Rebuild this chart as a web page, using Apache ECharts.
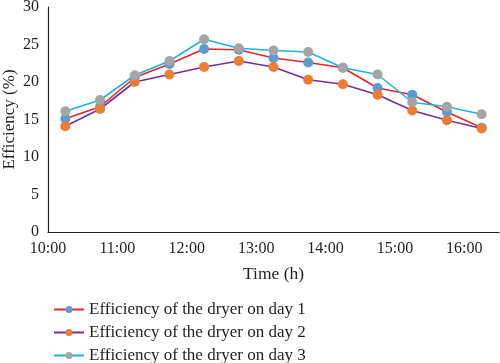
<!DOCTYPE html>
<html>
<head>
<meta charset="utf-8">
<script src="https://cdn.jsdelivr.net/npm/echarts@6/dist/echarts.min.js"></script>
<style>
html,body{margin:0;padding:0;background:#fff;}
#chart{width:500px;height:363px;}
</style>
</head>
<body>
<div id="chart"></div>
<script>
var times = ['10:15','10:45','11:15','11:45','12:15','12:45','13:15','13:45','14:15','14:45','15:15','15:45','16:15'];
var day1 = [15.1, 16.7, 20.6, 22.4, 24.4, 24.3, 23.2, 22.6, 21.9, 19.2, 18.3, 16.0, 13.9];
var day2 = [14.1, 16.4, 20.0, 21.0, 22.0, 22.8, 22.0, 20.3, 19.7, 18.3, 16.2, 14.9, 13.8];
var day3 = [16.1, 17.6, 20.9, 22.8, 25.7, 24.5, 24.2, 24.0, 21.9, 21.0, 17.3, 16.7, 15.7];
var seriesNames = ['Efficiency of the dryer on day 1','Efficiency of the dryer on day 2','Efficiency of the dryer on day 3'];

function toHours(t){ var p = t.split(':'); return +p[0] + (+p[1])/60; }
function pairs(vals){ return vals.map(function(v,i){ return [toHours(times[i]), v]; }); }

var font = '"Liberation Serif", "DejaVu Serif", serif';
var chart = echarts.init(document.getElementById('chart'), null, {renderer:'canvas'});
function mk(name, vals, lineColor, markColor){
  return {
    name: name, type: 'line', data: pairs(vals),
    symbol: 'circle', symbolSize: 10,
    lineStyle: {color: lineColor, width: 1.6},
    itemStyle: {color: markColor},
    emphasis: {disabled: true},
    animation: false
  };
}
chart.setOption({
  animation: false,
  grid: {left: 48, right: 1, top: 7, bottom: 131, containLabel: false, outerBoundsMode: 'none'},
  xAxis: {
    type: 'value', min: 10, max: 16.5, interval: 1,
    name: 'Time (h)', nameLocation: 'middle', nameGap: 33, nameMoveOverlap: false,
    nameTextStyle: {fontFamily: font, fontSize: 17.5, color: '#231f20'},
    axisLine: {show: true, lineStyle: {color: '#231f20', width: 1.2}},
    axisTick: {show: false},
    splitLine: {show: false},
    axisLabel: {
      fontFamily: font, fontSize: 16, color: '#231f20', margin: 9,
      formatter: function(v){ return (Math.abs(v - Math.round(v)) < 1e-6) ? (Math.round(v) + ':00') : ''; }
    }
  },
  yAxis: {
    type: 'value', min: 0, max: 30, interval: 5,
    name: 'Efficiency (%)', nameLocation: 'middle', nameGap: 30, nameMoveOverlap: false,
    nameTextStyle: {fontFamily: font, fontSize: 17, color: '#231f20'},
    axisLine: {show: true, lineStyle: {color: '#231f20', width: 1.2}},
    axisTick: {show: false},
    splitLine: {show: false},
    axisLabel: {fontFamily: font, fontSize: 16, color: '#231f20', margin: 9}
  },
  legend: {
    orient: 'vertical', left: 48, top: 296, height: 70, width: 400,
    itemWidth: 30, itemHeight: 9, itemGap: 6,
    textStyle: {fontFamily: font, fontSize: 17, color: '#231f20', lineHeight: 17},
    data: seriesNames
  },
  series: [
    mk(seriesNames[0], day1, '#e3262b', '#5b9bd5'),
    mk(seriesNames[1], day2, '#7030a0', '#ed7d31'),
    mk(seriesNames[2], day3, '#1cb4e3', '#a5a5a5')
  ]
});
</script>
</body>
</html>
